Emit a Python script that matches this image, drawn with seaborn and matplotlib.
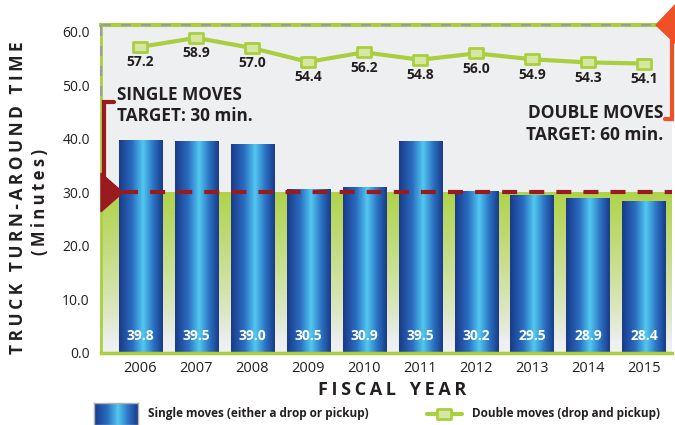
import numpy as np
import matplotlib
matplotlib.use("Agg")
import matplotlib.pyplot as plt
import seaborn as sns
from matplotlib.colors import LinearSegmentedColormap, to_rgb
from matplotlib.path import Path
from matplotlib.patches import Polygon
from matplotlib.lines import Line2D
from matplotlib.transforms import blended_transform_factory

# data
years = ['2006', '2007', '2008', '2009', '2010', '2011', '2012', '2013', '2014', '2015']
single_moves = [39.8, 39.5, 39.0, 30.5, 30.9, 39.5, 30.2, 29.5, 28.9, 28.4]
double_moves = [57.2, 58.9, 57.0, 54.4, 56.2, 54.8, 56.0, 54.9, 54.3, 54.1]
single_target = 30
double_target = 60
yticks = [0, 10, 20, 30, 40, 50, 60]

GREEN = '#a9cf3e'
GREEN_FILL = '#d6e7a4'
RED = '#9a1b1f'
ORANGE = '#ef5026'
TXT = '#231f20'
BG = '#eeeff1'

W, H = 675, 425
def fx(x):
    return x / W
def fy(y):
    return 1 - y / H

sns.set_theme(style='white')
plt.rcParams['font.family'] = ['Open Sans', 'DejaVu Sans']

bar_cmap = LinearSegmentedColormap.from_list(
    'bars', [(0, '#1a3a8a'), (0.3, '#2a6cc0'), (0.55, '#52c9f1'), (0.78, '#2c74c4'), (1, '#1a3a8a')])
grad = np.linspace(0, 1, 128).reshape(1, -1)

fig = plt.figure(figsize=(W / 100, H / 100), dpi=100)
ax = fig.add_axes([fx(101), fy(353), (672 - 101) / W, (353 - 25) / H])
ax.set_facecolor(BG)

# green fade below the single-move target
xlo, xhi = -0.7, 9.5
rgba = np.zeros((200, 1, 4))
rgba[..., :3] = to_rgb('#b0d34a')
rgba[:, 0, 3] = np.clip(np.linspace(-0.08, 1, 200), 0, 1) ** 0.8
ax.imshow(rgba, extent=[xlo, xhi, 0, single_target], origin='lower', aspect='auto', zorder=0.5)

sns.barplot(x=years, y=single_moves, ax=ax, width=0.77, color='#2a6cc0', saturation=1, zorder=2)
for p, v in zip(ax.patches, single_moves):
    x0, w, h = p.get_x(), p.get_width(), p.get_height()
    ax.imshow(grad, cmap=bar_cmap, extent=[x0, x0 + w, 0, h], aspect='auto',
              interpolation='bicubic', zorder=2)
    p.set_facecolor('none')
    p.set_edgecolor('none')
    ax.text(x0 + w / 2, 3.1, f'{v:.1f}', ha='center', va='center', color='white',
            fontsize=10, fontweight='bold', zorder=3)

# target dashed line
ax.plot([-0.3, xhi], [single_target, single_target], color=RED, lw=3,
        dashes=(3.6, 2.9), zorder=4, solid_capstyle='butt')

sns.pointplot(x=years, y=double_moves, ax=ax, color=GREEN, markers='s', errorbar=None,
              linewidth=3, markersize=10, zorder=5)
rect = Path([(-1, -0.72), (1, -0.72), (1, 0.72), (-1, 0.72), (-1, -0.72)],
            [Path.MOVETO, Path.LINETO, Path.LINETO, Path.LINETO, Path.CLOSEPOLY])
for ln in ax.lines[-1:]:
    ln.set_marker(rect)
    ln.set_markersize(10)
    ln.set_markerfacecolor(GREEN_FILL)
    ln.set_markeredgecolor(GREEN)
    ln.set_markeredgewidth(2)
for i, v in enumerate(double_moves):
    ax.annotate(f'{v:.1f}', (i, v), xytext=(0, -11), textcoords='offset points',
                ha='center', va='center', fontsize=10, fontweight='bold', color=TXT, zorder=6)

ax.set_xlim(xlo, xhi)
ax.set_ylim(0, 61.3)
ax.set_yticks(yticks)
ax.set_yticklabels([f'{t:.1f}' for t in yticks])
ax.set_xlabel('')
ax.set_ylabel('')
ax.tick_params(axis='y', length=0, pad=8, labelsize=10, labelcolor=TXT)
ax.tick_params(axis='x', length=0, pad=6, labelsize=10.5, labelcolor=TXT)

ax.spines['right'].set_visible(False)
ax.spines['left'].set_color(GREEN)
ax.spines['left'].set_linewidth(2)
ax.spines['bottom'].set_color(GREEN)
ax.spines['bottom'].set_linewidth(2.5)
ax.spines['top'].set_color(GREEN)
ax.spines['top'].set_linewidth(3)
ax.plot([0, 1], [1, 1], transform=ax.transAxes, color='#9c9c9c', lw=1.5,
        dashes=(4.8, 4.8), clip_on=False, zorder=7)
trans = blended_transform_factory(ax.transAxes, ax.transData)
ax.plot([0, 0], [48, 61.3], transform=trans, color='#9c9c9c', lw=1.5,
        dashes=(4.8, 4.8), clip_on=False, zorder=7)

# left bracket (single target)
ax.add_patch(Polygon([(0, single_target + 3.6), (22 / 571, single_target), (0, single_target - 3.6)],
                     closed=True, transform=trans, color=RED, clip_on=False, zorder=8))
ax.plot([0.006, 0.006, 0.022], [single_target, 47, 47], transform=trans, color=RED, lw=3,
        clip_on=False, zorder=8, solid_joinstyle='miter')

# right bracket (double target)
fig.add_artist(Polygon([(fx(656), fy(25)), (fx(677), fy(3)), (fx(677), fy(45))], closed=True,
                       transform=fig.transFigure, color=ORANGE, zorder=8))
fig.add_artist(Line2D([fx(672), fx(672), fx(665)], [fy(25), fy(119), fy(119)], lw=3,
                      color=ORANGE, transform=fig.transFigure, solid_joinstyle='miter'))

fig.text(fx(117), fy(95), 'SINGLE MOVES', ha='left', va='center', fontsize=12.3,
         fontweight='bold', color=TXT)
fig.text(fx(117), fy(116), 'TARGET: 30 min.', ha='left', va='center', fontsize=12.3,
         fontweight='bold', color=TXT)
fig.text(fx(663), fy(113), 'DOUBLE MOVES', ha='right', va='center', fontsize=12.5,
         fontweight='bold', color=TXT)
fig.text(fx(663), fy(135), 'TARGET: 60 min.', ha='right', va='center', fontsize=12.5,
         fontweight='bold', color=TXT)

sp = '\u2009'
def spaced(s):
    return sp.join(s)

fig.text(fx(18), fy(198), spaced('TRUCK TURN-AROUND TIME'), rotation=90, ha='center',
         va='center', fontsize=12.5, fontweight='bold', color=TXT)
fig.text(fx(40), fy(202), spaced('(Minutes)'), rotation=90, ha='center', va='center',
         fontsize=12, fontweight='bold', color=TXT)
fig.text(fx(392), fy(390), spaced('FISCAL') + '   ' + spaced('YEAR'), ha='center', va='center',
         fontsize=13, fontweight='bold', color=TXT)

# legend
lax = fig.add_axes([fx(94), fy(425), 44 / W, 22 / H])
lax.imshow(grad, cmap=bar_cmap, aspect='auto', interpolation='bicubic')
lax.set_xticks([])
lax.set_yticks([])
for s in lax.spines.values():
    s.set_color('#b0b0b0')
    s.set_linewidth(1)
leg_font = ['Liberation Sans Narrow', 'Open Sans', 'DejaVu Sans']
fig.text(fx(148), fy(413), 'Single moves (either a drop or pickup)', ha='left', va='center',
         fontsize=8.5, fontweight='bold', color=TXT, family=leg_font)
fig.add_artist(Line2D([fx(427), fx(462)], [fy(414), fy(414)], lw=3, color=GREEN,
                      transform=fig.transFigure))
fig.add_artist(Line2D([fx(444)], [fy(414)], marker=rect, ms=10, mfc=GREEN_FILL, mec=GREEN,
                      mew=2, transform=fig.transFigure))
fig.text(fx(472), fy(413), 'Double moves (drop and pickup)', ha='left', va='center',
         fontsize=8.5, fontweight='bold', color=TXT, family=leg_font)

fig.savefig('out.png', dpi=100)
